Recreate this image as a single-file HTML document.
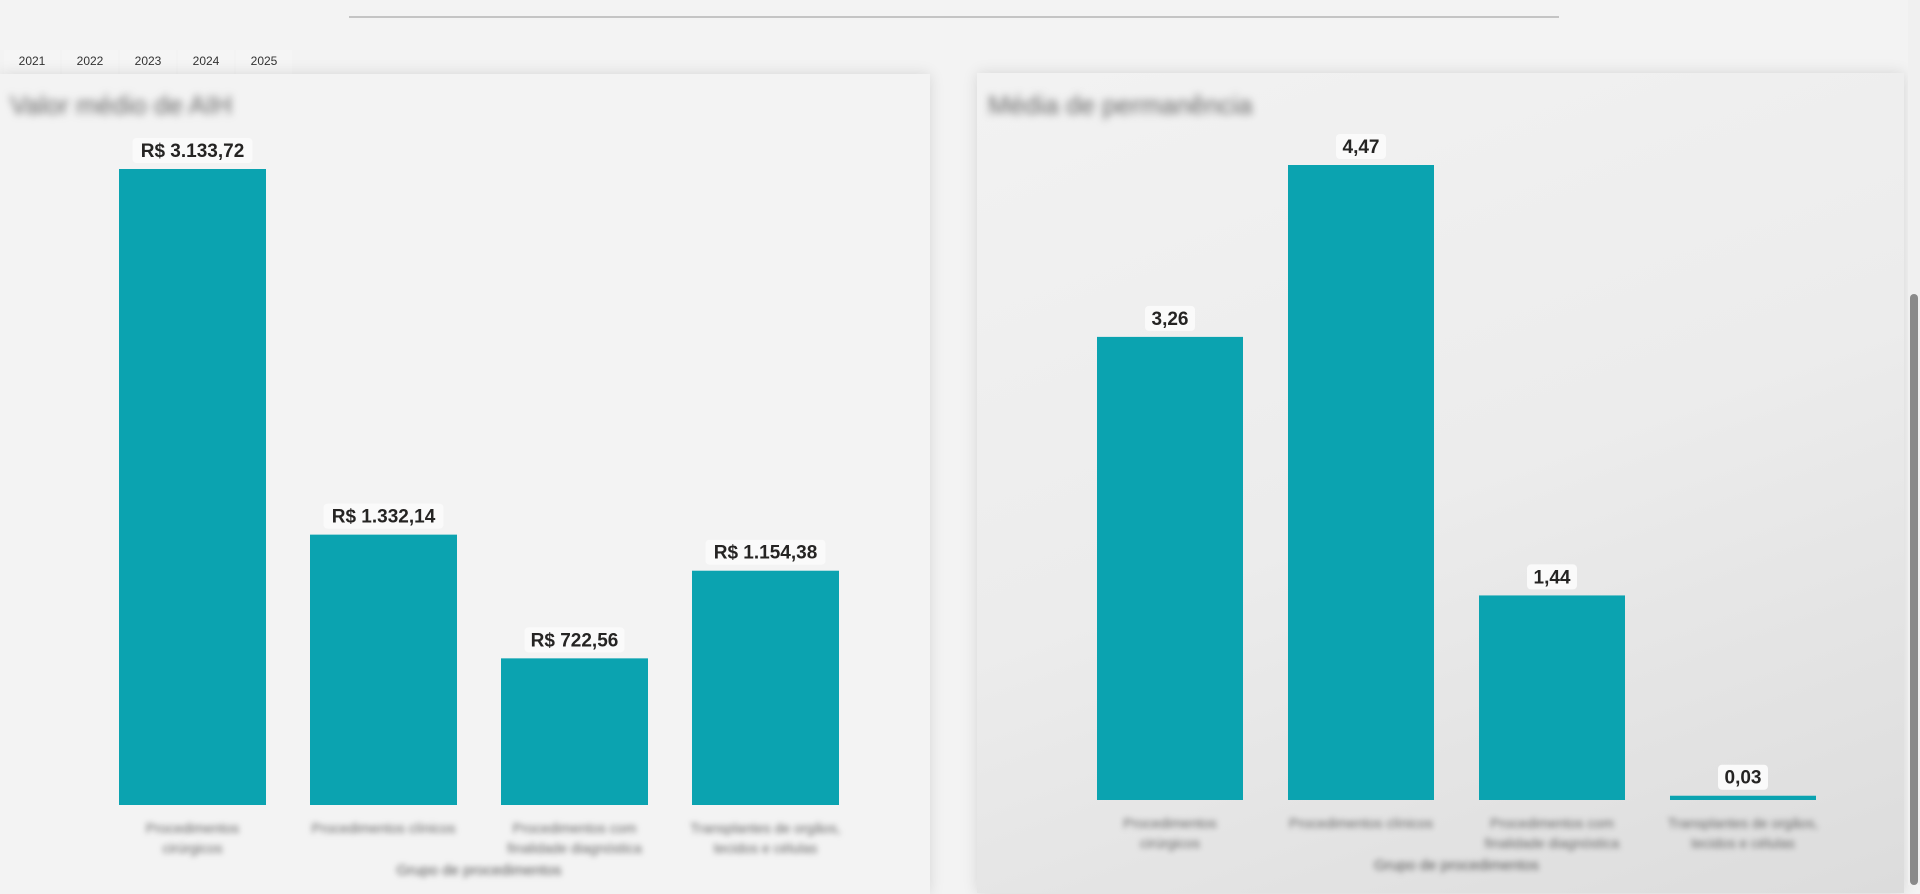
<!DOCTYPE html>
<html><head><meta charset="utf-8"><style>
html,body{margin:0;padding:0;width:1920px;height:885px;overflow:hidden;background:#f3f3f3;font-family:"Liberation Sans",sans-serif;}
.abs{position:absolute;}
.tab{position:absolute;top:50px;height:24px;width:56px;background:#f5f5f5;font-size:12px;color:#333;text-align:center;line-height:22px;}
.panel{position:absolute;box-shadow:0 0 14px rgba(0,0,0,0.12);}
.title{position:absolute;font-size:26px;color:#666;filter:blur(4px);}
</style></head><body>
<div class="abs" style="left:349px;top:16px;width:1210px;height:2px;background:#c4c4c4"></div>
<div class="tab" style="left:4px">2021</div>
<div class="tab" style="left:62px">2022</div>
<div class="tab" style="left:120px">2023</div>
<div class="tab" style="left:178px">2024</div>
<div class="tab" style="left:236px">2025</div>
<div class="panel" style="left:0;top:74px;width:930px;height:820px;background:#f3f3f3"></div>
<div class="panel" style="left:977px;top:73px;width:927px;height:820px;background:linear-gradient(160deg,#f2f2f2 0%,#ececec 50%,#dcdcdc 100%)"></div>
<div class="title" style="left:10px;top:90px">Valor médio de AIH</div>
<div class="title" style="left:988px;top:90px">Média de permanência</div>
<div class="abs" style="left:1908px;top:0;width:12px;height:885px;background:#f0f0f0"></div>
<div class="abs" style="left:1910px;top:294px;width:8px;height:591px;background:#8a8a8a;border-radius:4px"></div>
<svg id="chart" class="abs" style="left:0;top:0" width="1920" height="885"></svg>
<script>
const categories=["Procedimentos cirúrgicos","Procedimentos clínicos","Procedimentos com finalidade diagnóstica","Transplantes de orgãos, tecidos e células"];
const catLines=[["Procedimentos","cirúrgicos"],["Procedimentos clínicos"],["Procedimentos com","finalidade diagnóstica"],["Transplantes de orgãos,","tecidos e células"]];
const valorMedio=[3133.72,1332.14,722.56,1154.38];
const valorLabels=["R$ 3.133,72","R$ 1.332,14","R$ 722,56","R$ 1.154,38"];
const permanencia=[3.26,4.47,1.44,0.03];
const permLabels=["3,26","4,47","1,44","0,03"];
const svg=document.getElementById('chart');
const NS='http://www.w3.org/2000/svg';
function mk(t,a){const e=document.createElementNS(NS,t);for(const k in a)e.setAttribute(k,a[k]);svg.appendChild(e);return e;}
function draw(vals,labels,x0,step,bw,base,top,maxV,prefix){
  const y=v=>base-(v/maxV)*(base-top);
  vals.forEach((v,i)=>{
    const x=x0+i*step;
    const r=mk('rect',{x:x,y:y(v),width:bw,height:base-y(v),fill:'#0ba3b0'});
    
    
    const tw=labels[i].length*10+10;
    const b=mk('rect',{x:x+bw/2-tw/2,y:y(v)-31,width:tw,height:25,rx:4,fill:'#fafafa'});
    
    
    const t=mk('text',{x:x+bw/2,y:y(v)-12,'text-anchor':'middle','font-size':'19','font-weight':'bold',fill:'#252423','font-family':'Liberation Sans, sans-serif'});
    t.textContent=labels[i];
    
    
    catLines[i].forEach((ln,j)=>{
      const c=mk('text',{x:x+bw/2,y:base+28+j*20,'text-anchor':'middle','font-size':'14',fill:'#666',style:'filter:blur(3px)'});
      c.textContent=ln;
      
      
    });
  });
  const at=mk('text',{x:x0+(vals.length*step-(step-bw))/2,y:base+70,'text-anchor':'middle','font-size':'15',fill:'#555',style:'filter:blur(3px)'});
  at.textContent='Grupo de procedimentos';
  
  
}
draw(valorMedio,valorLabels,119,191,147,805,169,3133.72,'valor');
draw(permanencia,permLabels,1097,191,146,800,165,4.47,'perm');
</script>
</body></html>
